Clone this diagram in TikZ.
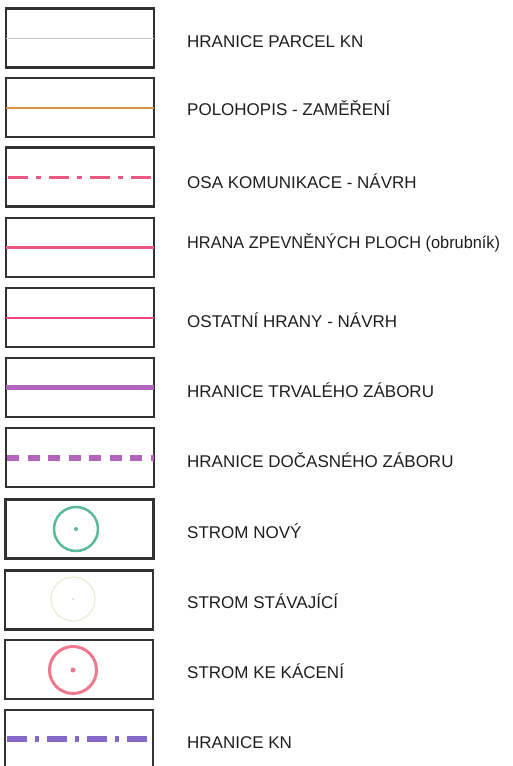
\documentclass[tikz,border=0pt]{standalone}
\usepackage{fontspec}
\usetikzlibrary{calc}
\setmainfont{Liberation Sans}
\definecolor{frame}{RGB}{50,50,50}
\definecolor{parcel}{RGB}{205,205,205}
\definecolor{polo}{RGB}{210,150,70}
\definecolor{pinkline}{RGB}{232,88,128}
\definecolor{pinkthin}{RGB}{235,70,125}
\definecolor{purpleline}{RGB}{178,100,188}
\definecolor{greencirc}{RGB}{90,185,150}
\definecolor{yellowcirc}{RGB}{232,232,200}
\definecolor{redcirc}{RGB}{240,120,140}
\definecolor{bluepurple}{RGB}{132,105,200}
\definecolor{textc}{RGB}{30,30,30}
\tikzset{
  legendbox/.style={draw=frame, line width=2.2pt, minimum width=148pt, minimum height=59pt, inner sep=0pt, outer sep=0pt},
  legendtext/.style={anchor=base west, inner sep=0pt, text=textc, font=\fontsize{17}{20}\selectfont},
  symline/.style={line cap=butt}
}
\begin{document}
\begin{tikzpicture}[x=1pt,y=-1pt]
\useasboundingbox (0,0) rectangle (512,766);
\clip (0,0) rectangle (512,766);
% boxes
\node[legendbox] (b1) at (80,38) {};
\node[legendbox] (b2) at (80,107.5) {};
\node[legendbox] (b3) at (80,177) {};
\node[legendbox] (b4) at (80,247.5) {};
\node[legendbox] (b5) at (80,317.5) {};
\node[legendbox] (b6) at (80,387.5) {};
\node[legendbox] (b7) at (80,457.5) {};
\node[legendbox] (b8) at (79.5,529) {};
\node[legendbox] (b9) at (79,600) {};
\node[legendbox] (b10) at (79,669.5) {};
\node[legendbox, minimum height=80pt] (b11) at (79,750) {};
% symbol lines
\draw[symline, parcel, line width=1pt] (b1.west) -- (b1.east);
\draw[symline, polo, line width=2pt] (b2.west) -- (b2.east);
\draw[symline, pinkline, line width=3pt, dash pattern=on 20pt off 8pt on 5pt off 8pt, dash phase=-2pt] (b3.west) -- (b3.east);
\draw[symline, pinkline, line width=3.2pt] (b4.west) -- (b4.east);
\draw[symline, pinkthin, line width=2pt] (b5.west) -- (b5.east);
\draw[symline, purpleline, line width=5.5pt] (b6.west) -- (b6.east);
\draw[symline, purpleline, line width=6pt, dash pattern=on 12pt off 8.5pt, dash phase=-1pt] (b7.west) -- (b7.east);
\coordinate (k1) at ($(b11.north west)+(0,29)$);
\coordinate (k2) at ($(b11.north east)+(0,29)$);
\draw[symline, bluepurple, line width=5.5pt, dash pattern=on 19.5pt off 8pt on 4pt off 8.5pt, dash phase=-2pt] (k1) -- (k2);
% circles
\node[draw=greencirc, line width=2.5pt, circle, minimum size=44pt, inner sep=0pt] (c1) at (76,529) {};
\fill[greencirc] (c1.center) circle (2pt);
\node[draw=yellowcirc, line width=1pt, circle, minimum size=44pt, inner sep=0pt] (c2) at (73,599) {};
\fill[yellowcirc!80!black!60] (c2.center) circle (1pt);
\node[draw=redcirc, line width=3pt, circle, minimum size=47pt, inner sep=0pt] (c3) at (73,670) {};
\fill[redcirc] (c3.center) circle (2.5pt);
% labels
\node[legendtext] (t1) at (187,47) {HRANICE PARCEL KN};
\node[legendtext] (t2) at (187,115) {POLOHOPIS - ZAMĚŘENÍ};
\node[legendtext] (t3) at (187,188) {OSA KOMUNIKACE - NÁVRH};
\node[legendtext] (t4) at (187,248) {\scalebox{0.96}[1]{HRANA ZPEVNĚNÝCH PLOCH (obrubník)}};
\node[legendtext] (t5) at (187,327) {OSTATNÍ HRANY - NÁVRH};
\node[legendtext] (t6) at (187,397) {HRANICE TRVALÉHO ZÁBORU};
\node[legendtext] (t7) at (187,467) {HRANICE DOČASNÉHO ZÁBORU};
\node[legendtext] (t8) at (187,538) {STROM NOVÝ};
\node[legendtext] (t9) at (187,608) {STROM STÁVAJÍCÍ};
\node[legendtext] (t10) at (187,678) {STROM KE KÁCENÍ};
\node[legendtext] (t11) at (187,748) {HRANICE KN};
\end{tikzpicture}
\end{document}
